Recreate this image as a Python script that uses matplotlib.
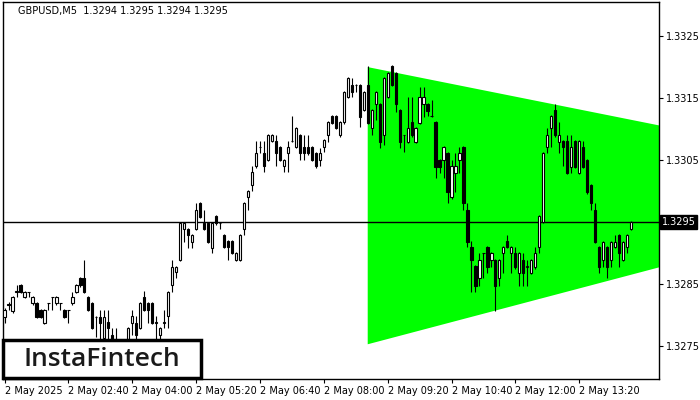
import matplotlib
matplotlib.use("Agg")
import matplotlib.pyplot as plt
from matplotlib.patches import Polygon, Rectangle
import numpy as np

# GBPUSD M5 candles, 2 May 2025
opens = [
    1.32797, 1.32818, 1.32806, 1.32837, 1.32848, 1.32829, 1.32837, 1.32819, 1.32819, 1.32808,
    1.32787, 1.32819, 1.32829, 1.32819, 1.32819, 1.32808, 1.32808, 1.32819, 1.32837, 1.32860,
    1.32860, 1.32829, 1.32819, 1.32797, 1.32797, 1.32763, 1.32789, 1.32768, 1.32760, 1.32755,
    1.32750, 1.32758, 1.32787, 1.32787, 1.32779, 1.32829, 1.32819, 1.32819, 1.32787, 1.32768,
    1.32787, 1.32798, 1.32848, 1.32869, 1.32889, 1.32939, 1.32939, 1.32918, 1.32939, 1.32981,
    1.32948, 1.32948, 1.32908, 1.32960, 1.32948, 1.32929, 1.32919, 1.32919, 1.32889, 1.32889,
    1.32939, 1.32990, 1.33010, 1.33040, 1.33071, 1.33061, 1.33050, 1.33081, 1.33081, 1.33071,
    1.33040, 1.33061, 1.33081, 1.33071, 1.33090, 1.33071, 1.33071, 1.33071, 1.33061, 1.33050,
    1.33071, 1.33090, 1.33121, 1.33121, 1.33090, 1.33111, 1.33152, 1.33171, 1.33171, 1.33171,
    1.33131, 1.33171, 1.33102, 1.33140, 1.33140, 1.33090, 1.33152, 1.33202, 1.33190, 1.33131,
    1.33090, 1.33079, 1.33111, 1.33079, 1.33110, 1.33140, 1.33140, 1.33121, 1.33111, 1.33050,
    1.33050, 1.33061, 1.32990, 1.33029, 1.33050, 1.33071, 1.32969, 1.32910, 1.32879, 1.32860,
    1.32900, 1.32910, 1.32889, 1.32889, 1.32860, 1.32900, 1.32919, 1.32900, 1.32900, 1.32868,
    1.32889, 1.32877, 1.32868, 1.32877, 1.32910, 1.32950, 1.33071, 1.33102, 1.33131, 1.33079,
    1.33081, 1.33081, 1.33039, 1.33081, 1.33029, 1.33071, 1.33050, 1.33010, 1.32969, 1.32910,
    1.32889, 1.32910, 1.32889, 1.32910, 1.32929, 1.32889, 1.32910, 1.32939,
]
highs = [
    1.32811, 1.32821, 1.32831, 1.32848, 1.32850, 1.32839, 1.32838, 1.32831, 1.32821, 1.32810,
    1.32810, 1.32820, 1.32830, 1.32831, 1.32820, 1.32810, 1.32809, 1.32837, 1.32850, 1.32862,
    1.32889, 1.32831, 1.32821, 1.32798, 1.32808, 1.32808, 1.32808, 1.32779, 1.32779, 1.32760,
    1.32762, 1.32781, 1.32808, 1.32798, 1.32821, 1.32839, 1.32821, 1.32821, 1.32798, 1.32781,
    1.32808, 1.32839, 1.32889, 1.32879, 1.32950, 1.32950, 1.32941, 1.32931, 1.32981, 1.32983,
    1.32969, 1.32950, 1.32950, 1.32962, 1.32949, 1.32931, 1.32921, 1.32921, 1.32902, 1.32931,
    1.32983, 1.33002, 1.33040, 1.33081, 1.33081, 1.33081, 1.33092, 1.33092, 1.33090, 1.33073,
    1.33052, 1.33081, 1.33121, 1.33104, 1.33092, 1.33090, 1.33090, 1.33073, 1.33063, 1.33069,
    1.33084, 1.33113, 1.33123, 1.33123, 1.33113, 1.33162, 1.33184, 1.33182, 1.33172, 1.33173,
    1.33162, 1.33202, 1.33133, 1.33162, 1.33142, 1.33184, 1.33192, 1.33204, 1.33192, 1.33133,
    1.33091, 1.33152, 1.33152, 1.33104, 1.33168, 1.33168, 1.33142, 1.33147, 1.33113, 1.33052,
    1.33073, 1.33063, 1.33050, 1.33061, 1.33071, 1.33073, 1.32981, 1.32920, 1.32881, 1.32900,
    1.32901, 1.32912, 1.32902, 1.32891, 1.32891, 1.32912, 1.32929, 1.32912, 1.32910, 1.32902,
    1.32900, 1.32889, 1.32891, 1.32910, 1.32962, 1.33063, 1.33102, 1.33123, 1.33140, 1.33111,
    1.33083, 1.33090, 1.33090, 1.33083, 1.33083, 1.33081, 1.33052, 1.33012, 1.32981, 1.32912,
    1.32920, 1.32912, 1.32920, 1.32929, 1.32931, 1.32920, 1.32931, 1.32952,
]
lows = [
    1.32787, 1.32808, 1.32804, 1.32829, 1.32835, 1.32827, 1.32829, 1.32816, 1.32795, 1.32795,
    1.32785, 1.32808, 1.32808, 1.32817, 1.32808, 1.32795, 1.32787, 1.32817, 1.32835, 1.32846,
    1.32835, 1.32806, 1.32777, 1.32764, 1.32760, 1.32760, 1.32760, 1.32752, 1.32745, 1.32740,
    1.32740, 1.32750, 1.32768, 1.32760, 1.32777, 1.32806, 1.32787, 1.32785, 1.32760, 1.32760,
    1.32779, 1.32779, 1.32837, 1.32860, 1.32887, 1.32918, 1.32908, 1.32908, 1.32937, 1.32956,
    1.32937, 1.32916, 1.32900, 1.32946, 1.32939, 1.32908, 1.32889, 1.32898, 1.32887, 1.32887,
    1.32929, 1.32969, 1.33000, 1.33038, 1.33061, 1.33031, 1.33048, 1.33079, 1.33040, 1.33048,
    1.33031, 1.33031, 1.33079, 1.33069, 1.33050, 1.33050, 1.33059, 1.33048, 1.33038, 1.33040,
    1.33063, 1.33079, 1.33108, 1.33100, 1.33088, 1.33109, 1.33150, 1.33152, 1.33160, 1.33103,
    1.33129, 1.33108, 1.33090, 1.33115, 1.33069, 1.33074, 1.33150, 1.33169, 1.33127, 1.33069,
    1.33063, 1.33077, 1.33088, 1.33077, 1.33108, 1.33119, 1.33121, 1.33120, 1.33021, 1.33029,
    1.33021, 1.32981, 1.32988, 1.32998, 1.33029, 1.32969, 1.32910, 1.32837, 1.32837, 1.32847,
    1.32860, 1.32868, 1.32877, 1.32806, 1.32847, 1.32868, 1.32908, 1.32868, 1.32875, 1.32847,
    1.32847, 1.32847, 1.32866, 1.32875, 1.32900, 1.32948, 1.33061, 1.33071, 1.33088, 1.33061,
    1.33040, 1.33027, 1.33029, 1.33037, 1.33027, 1.33037, 1.32996, 1.32969, 1.32916, 1.32868,
    1.32877, 1.32860, 1.32877, 1.32908, 1.32877, 1.32887, 1.32900, 1.32937,
]
closes = [
    1.32808, 1.32816, 1.32829, 1.32839, 1.32837, 1.32837, 1.32837, 1.32829, 1.32797, 1.32797,
    1.32808, 1.32819, 1.32829, 1.32829, 1.32819, 1.32797, 1.32808, 1.32829, 1.32848, 1.32848,
    1.32837, 1.32808, 1.32779, 1.32797, 1.32787, 1.32797, 1.32779, 1.32760, 1.32755, 1.32750,
    1.32758, 1.32779, 1.32798, 1.32768, 1.32819, 1.32808, 1.32808, 1.32787, 1.32789, 1.32779,
    1.32789, 1.32837, 1.32877, 1.32877, 1.32948, 1.32948, 1.32929, 1.32929, 1.32969, 1.32958,
    1.32939, 1.32918, 1.32948, 1.32948, 1.32948, 1.32910, 1.32910, 1.32900, 1.32900, 1.32929,
    1.32981, 1.33000, 1.33031, 1.33061, 1.33071, 1.33040, 1.33090, 1.33090, 1.33061, 1.33050,
    1.33050, 1.33071, 1.33081, 1.33102, 1.33061, 1.33061, 1.33061, 1.33050, 1.33040, 1.33061,
    1.33082, 1.33111, 1.33110, 1.33102, 1.33111, 1.33160, 1.33182, 1.33160, 1.33171, 1.33119,
    1.33160, 1.33110, 1.33131, 1.33160, 1.33079, 1.33182, 1.33190, 1.33171, 1.33140, 1.33079,
    1.33090, 1.33102, 1.33090, 1.33102, 1.33152, 1.33152, 1.33129, 1.33121, 1.33039, 1.33039,
    1.33071, 1.32998, 1.33040, 1.33040, 1.33061, 1.32981, 1.32918, 1.32889, 1.32847, 1.32889,
    1.32900, 1.32877, 1.32900, 1.32847, 1.32889, 1.32910, 1.32910, 1.32910, 1.32877, 1.32900,
    1.32868, 1.32879, 1.32889, 1.32900, 1.32960, 1.33061, 1.33090, 1.33121, 1.33090, 1.33090,
    1.33071, 1.33029, 1.33071, 1.33039, 1.33081, 1.33039, 1.32998, 1.32981, 1.32918, 1.32877,
    1.32918, 1.32877, 1.32918, 1.32918, 1.32900, 1.32918, 1.32929, 1.32950,
]

time_labels = ["2 May 2025", "2 May 02:40", "2 May 04:00", "2 May 05:20", "2 May 06:40",
               "2 May 08:00", "2 May 09:20", "2 May 10:40", "2 May 12:00", "2 May 13:20"]
price_ticks = [1.3275, 1.3285, 1.3305, 1.3315, 1.3325]
last_price = 1.3295

# triangle pattern (bar index, upper, lower)
tri_x = [91, 164]
tri_upper = [1.33200, 1.33106]
tri_lower = [1.32753, 1.32877]

fig = plt.figure(figsize=(7, 4), dpi=100)
ax = fig.add_axes([3 / 700, 21 / 400, 656 / 700, 377 / 400])

x = np.arange(len(opens))
o = np.array(opens)
c = np.array(closes)

# green triangle
poly = Polygon([(tri_x[0], tri_upper[0]), (tri_x[1], tri_upper[1]),
                (tri_x[1], tri_lower[1]), (tri_x[0], tri_lower[0])],
               closed=True, facecolor="#00ff00", edgecolor="none", zorder=1)
ax.add_patch(poly)

ax.axhline(last_price, color="black", linewidth=1, zorder=2)

# wicks
ax.vlines(x, lows, highs, color="black", linewidth=0.8, zorder=3)

# bodies
up = c >= o
ax.bar(x[up], c[up] - o[up], bottom=o[up], width=0.55, facecolor="white",
       edgecolor="black", linewidth=0.8, zorder=4)
ax.bar(x[~up], c[~up] - o[~up], bottom=o[~up], width=0.55, facecolor="black",
       edgecolor="black", linewidth=0.8, zorder=4)

ax.set_xlim(-0.4, 164)
ax.set_ylim(1.32697, 1.33305)

ax.yaxis.tick_right()
ax.set_yticks(price_ticks)
ax.set_yticklabels([f"{p:.4f}" for p in price_ticks], fontsize=7)
ax.set_xticks(np.arange(len(time_labels)) * 16)
ax.set_xticklabels(time_labels, fontsize=7)
for lbl in ax.get_xticklabels():
    lbl.set_ha("left")
ax.tick_params(axis="both", length=3, width=0.8, pad=2)
for s in ax.spines.values():
    s.set_linewidth(1)

# current price tag
ax.text(1.004, last_price, "1.3295", transform=ax.get_yaxis_transform(),
        color="white", fontsize=7, va="center", ha="left",
        bbox=dict(facecolor="black", edgecolor="black", pad=1.2))

fig.text(18 / 700, 1 - 11 / 400, "GBPUSD,M5  1.3294 1.3295 1.3294 1.3295",
         fontsize=7, va="center", ha="left")

# logo box
fig.patches.append(Rectangle((3 / 700, 22 / 400), 198 / 700, 38 / 400,
                             transform=fig.transFigure, facecolor="white",
                             edgecolor="black", linewidth=2.5, zorder=10))
fig.text(102 / 700, 41 / 400, "InstaFintech", fontsize=19, family="Open Sans",
         weight="semibold", color="#1a1a1a", ha="center", va="center", zorder=11)

plt.savefig("out.png", dpi=100)
